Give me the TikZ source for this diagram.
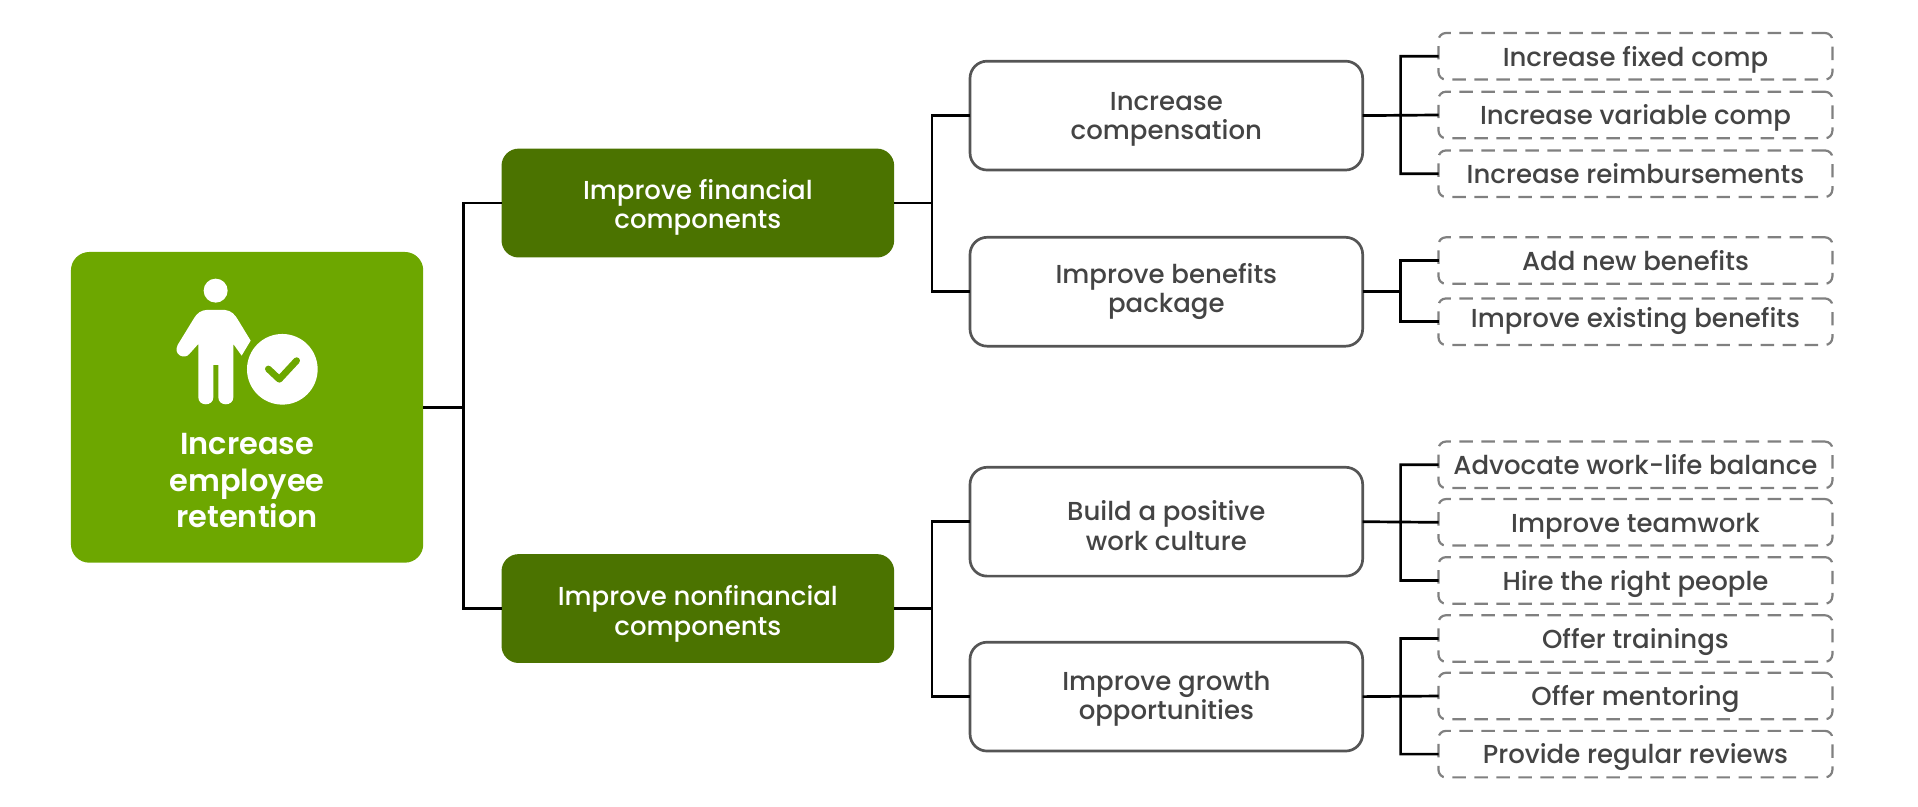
\documentclass[tikz,border=0pt]{standalone}
\usepackage{fontspec}
\setmainfont{Poppins}[UprightFont=* Medium,BoldFont=* SemiBold]
\usetikzlibrary{calc}
\definecolor{rootgreen}{HTML}{6DA700}
\definecolor{darkgreen}{HTML}{4B7300}
\definecolor{inkgray}{HTML}{444444}
\definecolor{edgegray}{HTML}{555555}
\definecolor{dashgray}{HTML}{808080}
\newlength{\uu}\setlength{\uu}{0.6116pt}
\tikzset{
  x=\uu,y=-\uu,
  boxbase/.style={rectangle,align=center,inner sep=0pt,outer sep=0pt},
  rootbox/.style={boxbase,fill=rootgreen,rounded corners=15\uu,minimum width=288\uu,minimum height=254\uu},
  firstbox/.style={boxbase,fill=darkgreen,text=white,rounded corners=14\uu,minimum width=321\uu,minimum height=89\uu,text height=26pt,text depth=1.6pt,font=\fontsize{13pt}{14.7pt}\selectfont},
  secondbox/.style={boxbase,draw=edgegray,line width=2.2\uu,fill=white,text=inkgray,rounded corners=14\uu,minimum width=321\uu,minimum height=89\uu,text height=26pt,text depth=1.6pt,font=\fontsize{13pt}{14.7pt}\selectfont},
  thirdbox/.style={boxbase,draw=dashgray,line width=1.8\uu,dash pattern=on 11\uu off 7\uu,fill=white,text=inkgray,rounded corners=6\uu,minimum width=322\uu,minimum height=38\uu,text height=11pt,text depth=1.2pt,font=\fontsize{13pt}{14pt}\selectfont},
  roottext/.style={inner sep=0pt,outer sep=0pt,text=white,align=center,font=\fontsize{15.2pt}{18.3pt}\selectfont\bfseries},
  link/.style={draw=black,line width=2.2\uu},
}
\begin{document}
\begin{tikzpicture}
\useasboundingbox (0,0) rectangle (1568,659);
% root
\node[rootbox] (root) at (202,333) {};
\node[roottext] (roottitle) at (202,393) {Increase\\employee\\retention};
% icon
\begin{scope}[shift={(32.7,155.3)},x=0.2725\uu,y=-0.2725\uu]
\fill[white] (527,302) circle (36);
\fill[white] (500,360) -- (555,360) .. controls (575,362) and (585,375) .. (593,388) -- (632,452) -- (605,497) -- (580,462) -- (580,622) .. controls (580,650) and (535,650) .. (535,622) -- (535,525) -- (520,525) -- (520,622) .. controls (520,650) and (475,650) .. (475,622) -- (475,462) -- (448,492) .. controls (435,510) and (398,495) .. (413,465) -- (462,385) .. controls (470,370) and (485,360) .. (500,360) -- cycle;
\fill[white] (727,538) circle (106);
\draw[rootgreen,line width=20*0.2725\uu,line cap=round,line join=round] (685,537) -- (718,568) -- (770,512);
\end{scope}
% level 1
\node[firstbox,text height=27.2pt] (fin) at (570.5,166) {Improve financial\\components};
\node[firstbox,text height=28.4pt] (non) at (570.5,497.5) {Improve nonfinancial\\components};
% level 2
\node[secondbox] (comp) at (953.5,94.5) {Increase\\compensation};
\node[secondbox,text depth=5.2pt] (bene) at (953.5,238.5) {Improve benefits\\package};
\node[secondbox,text height=30.2pt] (cult) at (953.5,426.5) {Build a positive\\work culture};
\node[secondbox,text depth=2.8pt] (grow) at (953.5,569.5) {Improve growth\\opportunities};
% level 3
\node[thirdbox] (a1) at (1337,46) {Increase fixed comp};
\node[thirdbox] (a2) at (1337,94) {Increase variable comp};
\node[thirdbox] (a3) at (1337,142) {Increase reimbursements};
\node[thirdbox] (b1) at (1337,213) {Add new benefits};
\node[thirdbox,text depth=4.8pt] (b2) at (1337,263) {Improve existing benefits};
\node[thirdbox] (c1) at (1337,380) {Advocate work-life balance};
\node[thirdbox] (c2) at (1337,427) {Improve teamwork};
\node[thirdbox] (c3) at (1337,474.5) {Hire the right people};
\node[thirdbox] (d1) at (1337,522) {Offer trainings};
\node[thirdbox] (d2) at (1337,569) {Offer mentoring};
\node[thirdbox] (d3) at (1337,616.5) {Provide regular reviews};
% connectors
\coordinate (j0) at ($(root.east)+(33,0)$);
\draw[link] (root.east) -- (j0) (fin.west) -| (j0) |- (non.west);
\coordinate (j1) at ($(fin.east)+(31,0)$);
\draw[link] (fin.east) -- (j1) (comp.west) -| (j1) |- (bene.west);
\coordinate (j2) at ($(non.east)+(31,0)$);
\draw[link] (non.east) -- (j2) (cult.west) -| (j2) |- (grow.west);
\coordinate (j3) at ($(comp.east)+(31,0)$);
\draw[link] (comp.east) -- (a2.west) (a1.west) -| (j3) |- (a3.west);
\coordinate (j4) at ($(bene.east)+(31,0)$);
\draw[link] (bene.east) -- (j4) (b1.west) -| (j4) |- (b2.west);
\coordinate (j5) at ($(cult.east)+(31,0)$);
\draw[link] (cult.east) -- (c2.west) (c1.west) -| (j5) |- (c3.west);
\coordinate (j6) at ($(grow.east)+(31,0)$);
\draw[link] (grow.east) -- (d2.west) (d1.west) -| (j6) |- (d3.west);
\end{tikzpicture}
\end{document}
